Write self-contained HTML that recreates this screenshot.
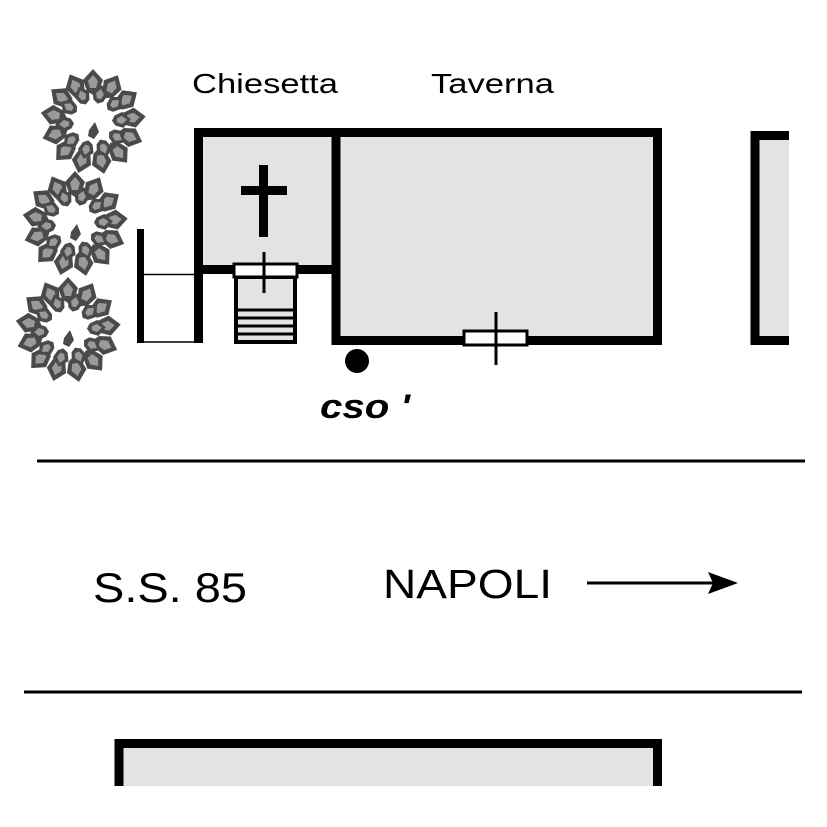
<!DOCTYPE html>
<html><head><meta charset="utf-8"><style>
html,body{margin:0;padding:0;background:#fff;}
svg{display:block;}
text{font-family:"Liberation Sans",sans-serif;}
</style></head><body>
<svg width="827" height="827" viewBox="0 0 827 827" xmlns="http://www.w3.org/2000/svg">
<defs>
<g id="leaf"><path d="M0,-53 L10,-42 L6,-31 L0,-27 L-6,-31 L-10,-42 Z" fill="#4a4a4a"/><path d="M0,-47 L5,-41 L3,-34 L-3,-34 L-5,-41 Z" fill="#9a9a9a"/></g>
<g id="leaf2"><path d="M0,-38 L8,-30 L5,-22 L0,-19 L-5,-22 L-8,-30 Z" fill="#4a4a4a"/><path d="M0,-34 L4,-29 L2,-24 L-2,-24 L-4,-29 Z" fill="#9a9a9a"/></g>
<g id="tree">
<use href="#leaf" transform="rotate(0)"/><use href="#leaf" transform="rotate(28)"/><use href="#leaf" transform="rotate(56)"/><use href="#leaf" transform="rotate(84)"/><use href="#leaf" transform="rotate(112)"/><use href="#leaf" transform="rotate(140)"/><use href="#leaf" transform="rotate(168)"/><use href="#leaf" transform="rotate(196)"/><use href="#leaf" transform="rotate(224)"/><use href="#leaf" transform="rotate(252)"/><use href="#leaf" transform="rotate(280)"/><use href="#leaf" transform="rotate(308)"/><use href="#leaf" transform="rotate(334)"/>
<use href="#leaf2" transform="rotate(14)"/><use href="#leaf2" transform="rotate(50)"/><use href="#leaf2" transform="rotate(86)"/><use href="#leaf2" transform="rotate(122)"/><use href="#leaf2" transform="rotate(158)"/><use href="#leaf2" transform="rotate(194)"/><use href="#leaf2" transform="rotate(230)"/><use href="#leaf2" transform="rotate(266)"/><use href="#leaf2" transform="rotate(302)"/><use href="#leaf2" transform="rotate(338)"/>
<path d="M-6,0 L0,-8 L4,2 L-1,9 L-7,6 Z" fill="#4a4a4a" transform="translate(2,8)"/>
</g>
</defs>
<use href="#tree" transform="translate(93,122)"/>
<use href="#tree" transform="translate(75,224)"/>
<use href="#tree" transform="translate(68,330)"/>

<text x="192" y="93" font-size="28" textLength="146" lengthAdjust="spacingAndGlyphs">Chiesetta</text>
<text x="431" y="93" font-size="28" textLength="123" lengthAdjust="spacingAndGlyphs">Taverna</text>

<!-- chapel -->
<rect x="198" y="132" width="138" height="137" fill="#e3e3e3"/>
<path d="M198.5,343 V132.5 H336 M198.5,269.5 H336" stroke="#000" stroke-width="9" fill="none"/>
<rect x="259" y="165" width="9" height="72" fill="#000"/>
<rect x="241" y="186" width="46" height="9" fill="#000"/>
<rect x="236" y="277" width="59" height="65" fill="#e3e3e3" stroke="#000" stroke-width="4"/>
<g stroke="#000" stroke-width="3"><line x1="238" y1="310" x2="293" y2="310"/><line x1="238" y1="318" x2="293" y2="318"/><line x1="238" y1="326" x2="293" y2="326"/><line x1="238" y1="334" x2="293" y2="334"/></g>
<rect x="234" y="264" width="63" height="13" fill="#fff" stroke="#000" stroke-width="3"/>
<line x1="264" y1="252" x2="264" y2="293" stroke="#000" stroke-width="3"/>

<!-- fence -->
<rect x="137" y="229" width="7" height="114" fill="#000"/>
<line x1="144" y1="274.5" x2="196" y2="274.5" stroke="#000" stroke-width="1.5"/>
<line x1="144" y1="342" x2="196" y2="342" stroke="#000" stroke-width="1.5"/>

<!-- taverna -->
<rect x="336" y="132.5" width="321.5" height="208" fill="#e3e3e3" stroke="#000" stroke-width="9"/>
<rect x="464" y="331" width="63" height="14" fill="#fff" stroke="#000" stroke-width="3"/>
<line x1="496" y1="312" x2="496" y2="365" stroke="#000" stroke-width="3"/>
<circle cx="357" cy="361" r="12" fill="#000"/>
<text x="320" y="418" font-size="34" font-weight="bold" font-style="italic" textLength="90" lengthAdjust="spacingAndGlyphs">cso '</text>

<!-- right building -->
<rect x="755" y="135.5" width="34" height="205" fill="#e3e3e3"/>
<path d="M789,135.5 H755 V340.5 H789" stroke="#000" stroke-width="9" fill="none"/>

<!-- road -->
<line x1="37" y1="461" x2="805" y2="461" stroke="#000" stroke-width="3"/>
<line x1="24" y1="692" x2="802" y2="692" stroke="#000" stroke-width="3"/>
<text x="93" y="602" font-size="42" textLength="154" lengthAdjust="spacingAndGlyphs">S.S. 85</text>
<text x="383" y="598" font-size="41" textLength="169" lengthAdjust="spacingAndGlyphs">NAPOLI</text>
<line x1="587" y1="583" x2="715" y2="583" stroke="#000" stroke-width="3"/>
<path d="M738,583 L708,572 L713,583 L708,594 Z" fill="#000"/>

<!-- bottom building -->
<rect x="119" y="744" width="538.5" height="50" fill="#e3e3e3"/>
<path d="M119,786 V743.5 H657.5 V786" stroke="#000" stroke-width="9" fill="none"/>
<rect x="0" y="786" width="827" height="41" fill="#fff"/>
</svg>
</body></html>
